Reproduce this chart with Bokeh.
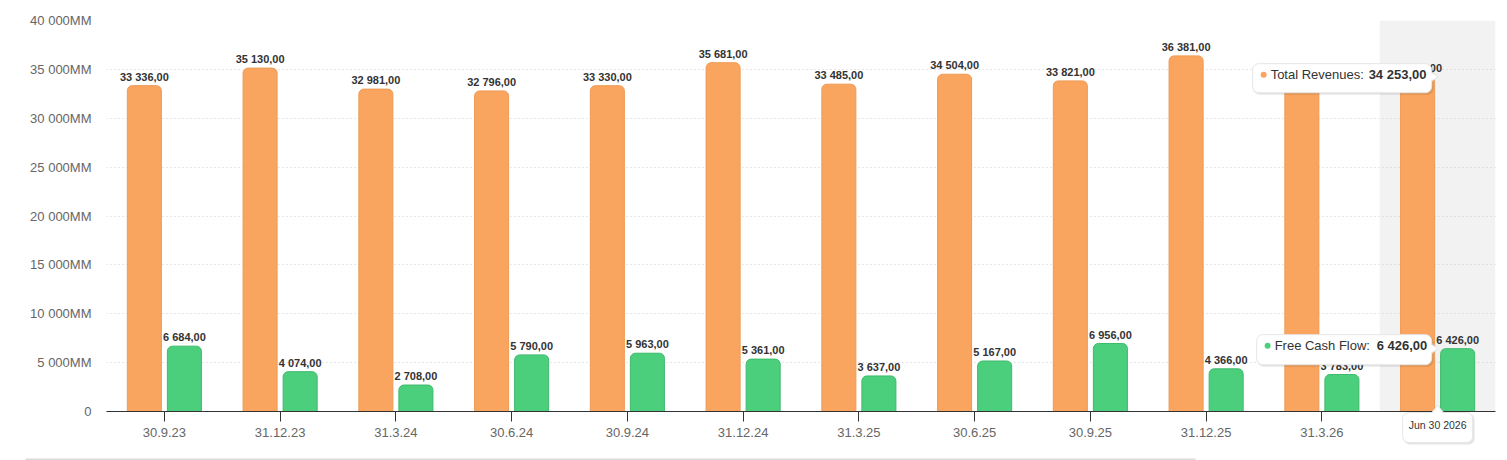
from bokeh.plotting import figure
from bokeh.models import FactorRange, Range1d, FixedTicker, ColumnDataSource, LabelSet, BoxAnnotation
from bokeh.transform import dodge
from bokeh.core.properties import value
from bokeh.embed import file_html
from bokeh.resources import INLINE

# ---------------- data ----------------
categories = ["30.9.23", "31.12.23", "31.3.24", "30.6.24", "30.9.24", "31.12.24",
              "31.3.25", "30.6.25", "30.9.25", "31.12.25", "31.3.26", "30.6.26"]
total_revenues = [33336, 35130, 32981, 32796, 33330, 35681,
                  33485, 34504, 33821, 36381, 33900, 34253]
free_cash_flow = [6684, 4074, 2708, 5790, 5963, 5361,
                  3637, 5167, 6956, 4366, 3783, 6426]
y_ticks = [0, 5000, 10000, 15000, 20000, 25000, 30000, 35000, 40000]
hover_index = 11
hover_date = "Jun 30 2026"
series_names = ["Total Revenues", "Free Cash Flow"]

FONT = "Liberation Sans"
ORANGE = "#F9A560"
ORANGE_LINE = "#EE9A55"
GREEN = "#4CCF7D"
GREEN_LINE = "#3DBA6B"


def fmt(v):
    return f"{v:,.2f}".replace(",", " ").replace(".", ",")


def tick_fmt(t):
    return "0" if t == 0 else f"{t:,}".replace(",", " ") + "MM"


FW, FH = 1389, 391
LEFT, TOP, BOTTOM, RIGHT = 106, 20, 49, 12
YMAX = 40000
PXC = FW / len(categories)
PYU = FH / YMAX

p = figure(x_range=FactorRange(*categories, range_padding=0), y_range=Range1d(0, YMAX),
           frame_width=FW, frame_height=FH, output_backend="svg", toolbar_location=None,
           min_border_left=LEFT, min_border_right=RIGHT, min_border_top=TOP,
           min_border_bottom=BOTTOM)
p.outline_line_color = None
p.background_fill_color = "white"
p.border_fill_color = "white"

# hover band
p.add_layout(BoxAnnotation(left=hover_index, right=hover_index + 1, fill_color="#f2f2f2",
                           fill_alpha=1, line_color=None, level="image"))

# axes
p.xgrid.visible = False
p.ygrid.grid_line_color = "#cfcfcf"
p.ygrid.grid_line_dash = "1 3"
p.yaxis.ticker = FixedTicker(ticks=y_ticks)
p.yaxis.major_label_overrides = {t: tick_fmt(t) for t in y_ticks}
p.yaxis.axis_line_color = None
p.yaxis.major_tick_line_color = None
p.yaxis.minor_tick_line_color = None
p.yaxis.major_tick_out = 0
p.yaxis.major_tick_in = 0
p.yaxis.major_label_standoff = 15
for ax in (p.xaxis, p.yaxis):
    ax.major_label_text_font = FONT
    ax.major_label_text_font_size = "13px"
    ax.major_label_text_color = "#666666"
p.xaxis.axis_line_color = "#333333"
p.xaxis.major_tick_line_color = "#333333"
p.xaxis.major_tick_out = 10
p.xaxis.major_tick_in = 0
p.xaxis.major_label_standoff = 6

src = ColumnDataSource(dict(cat=categories, rev=total_revenues, fcf=free_cash_flow,
                            rev_lbl=[fmt(v) for v in total_revenues],
                            fcf_lbl=[fmt(v) for v in free_cash_flow]))
OFF = 0.173
BW = 0.294
p.vbar(x=dodge("cat", -OFF, range=p.x_range), top="rev", width=BW, source=src,
       fill_color=ORANGE, line_color=ORANGE_LINE, line_width=1, border_radius=(5, 5, 0, 0))
p.vbar(x=dodge("cat", OFF, range=p.x_range), top="fcf", width=BW, source=src,
       fill_color=GREEN, line_color=GREEN_LINE, line_width=1, border_radius=(5, 5, 0, 0))

for col, off in (("rev", -OFF), ("fcf", OFF)):
    p.add_layout(LabelSet(x=dodge("cat", off, range=p.x_range), y=col, text=col + "_lbl",
                          source=src, text_align="center", text_baseline="alphabetic",
                          y_offset=5, text_font=value(FONT), text_font_size="11px",
                          text_font_style="bold", text_color="#333333"))

# ---------------- tooltips (anchored to hovered points) ----------------
cx = hover_index + 0.5


def X(dx):
    return cx + dx / PXC


def Y(v, dy):
    return v + dy / PYU


def box(l, r, t, b, v):
    p.quad(left=[X(l + 1)], right=[X(r + 2)], top=[Y(v, t - 1)], bottom=[Y(v, b - 2)],
           fill_color="black", fill_alpha=0.10, line_color=None, border_radius=6, level="overlay")
    p.quad(left=[X(l)], right=[X(r)], top=[Y(v, t)], bottom=[Y(v, b)],
           fill_color="white", line_color="#e6e6e6", border_radius=6, level="overlay")


tips = [
    # value, color, name, left, right, top, bottom, text dy, value start
    (total_revenues[hover_index], ORANGE, series_names[0], -185, -6, 13, -16, 2, -69),
    (free_cash_flow[hover_index], GREEN, series_names[1], -181, -6, 14, -16, 3, -61),
]
for v, c, name, l, r, t, b, tdy, vs in tips:
    p.patch(x=[X(r - 1), X(0), X(r - 1)], y=[Y(v, 6), Y(v, 0), Y(v, -6)],
            fill_color="white", line_color="#e0e0e0", level="overlay")
    box(l, r, t, b, v)
    p.patch(x=[X(r - 2), X(-1), X(r - 2)], y=[Y(v, 5), Y(v, 0), Y(v, -5)],
            fill_color="white", line_color=None, level="overlay")
    p.scatter(x=[X(l + 11)], y=[Y(v, tdy)], size=6, marker="circle", fill_color=c,
              line_color=None, level="overlay")
    p.text(x=[X(l + 18)], y=[Y(v, tdy)], text=[name + ":"], text_font=value(FONT),
           text_font_size="13px", text_color="#333333", text_baseline="middle",
           text_align="left", level="overlay")
    p.text(x=[X(vs)], y=[Y(v, tdy)], text=[fmt(v)], text_font=value(FONT),
           text_font_size="13px", text_font_style="bold", text_color="#333333",
           text_baseline="middle", text_align="left", level="overlay")

# date tooltip under the axis
p.patch(x=[X(-6), X(0), X(6)], y=[Y(0, -1), Y(0, 6), Y(0, -1)],
        fill_color="white", line_color="#e0e0e0", level="overlay")
box(-35, 35, -1, -31, 0)
p.patch(x=[X(-5), X(0), X(5)], y=[Y(0, -2), Y(0, 5), Y(0, -2)],
        fill_color="white", line_color=None, level="overlay")
p.text(x=[X(0)], y=[Y(0, -13)], text=[hover_date], text_font=value(FONT),
       text_font_size="10.5px", text_color="#333333", text_baseline="middle",
       text_align="center", level="overlay")

# page scrollbar strip at the bottom
p.quad(left=[(25 - LEFT) / PXC], right=[(1195 - LEFT) / PXC],
       top=[(411 - 458) / PYU], bottom=[(411 - 460) / PYU],
       fill_color="#dcdcdc", line_color=None, level="overlay")

open("out.html", "w").write(file_html(p, INLINE))
